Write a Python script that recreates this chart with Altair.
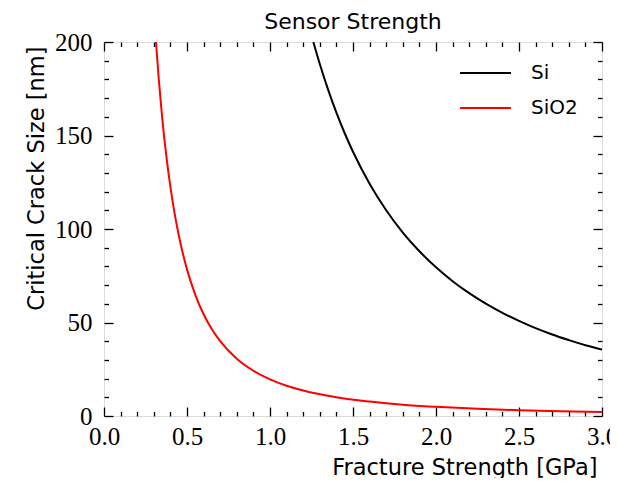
import altair as alt
import pandas as pd

# ---- data ----
si_strength = [1.261, 1.30, 1.35, 1.40, 1.45, 1.50, 1.60, 1.70, 1.80, 1.90, 2.00,
               2.10, 2.20, 2.30, 2.40, 2.50, 2.60, 2.70, 2.80, 2.90, 3.00]
si_crack = [200.0, 188.2, 174.5, 162.2, 151.2, 141.3, 124.2, 110.0, 98.1, 88.1, 79.5,
            72.1, 65.7, 60.1, 55.2, 50.9, 47.0, 43.6, 40.6, 37.8, 35.5]

sio2_strength = [0.313, 0.33, 0.35, 0.375, 0.40, 0.425, 0.45, 0.50, 0.55, 0.60, 0.65,
                 0.70, 0.80, 0.90, 1.00, 1.10, 1.20, 1.40, 1.60, 1.80, 2.00,
                 2.25, 2.50, 2.75, 3.00]
sio2_crack = [200.0, 180.0, 160.0, 139.4, 122.5, 108.5, 96.8, 78.4, 64.8, 54.4, 46.4,
              40.0, 30.6, 24.2, 19.6, 16.2, 13.6, 10.0, 7.7, 6.0, 4.9,
              3.9, 3.1, 2.6, 2.2]

materials = ["Si", "SiO2"]
line_colors = ["#000000", "#ff0000"]

x_major_ticks = [0.0, 0.5, 1.0, 1.5, 2.0, 2.5, 3.0]
x_minor_ticks = [0.1, 0.2, 0.3, 0.4, 0.6, 0.7, 0.8, 0.9, 1.1, 1.2, 1.3, 1.4,
                 1.6, 1.7, 1.8, 1.9, 2.1, 2.2, 2.3, 2.4, 2.6, 2.7, 2.8, 2.9]
y_major_ticks = [0, 50, 100, 150, 200]
y_minor_ticks = [10, 20, 30, 40, 60, 70, 80, 90, 110, 120, 130, 140,
                 160, 170, 180, 190]

df = pd.concat([
    pd.DataFrame({"strength": si_strength, "crack": si_crack, "material": materials[0]}),
    pd.DataFrame({"strength": sio2_strength, "crack": sio2_crack, "material": materials[1]}),
])

SANS = "DejaVu Sans"
SERIF = "Liberation Serif"
W, H = 498, 374
MAJ, MIN = 9, 4.5

x_scale = alt.Scale(domain=[0, 3], nice=False, zero=False)
y_scale = alt.Scale(domain=[0, 200], nice=False)

tick_style = dict(grid=False, domain=False, tickColor="black", tickWidth=1.3,
                  labelFlush=False, labelOverlap=False)


def plain_axis(orient, values, size):
    return alt.Axis(orient=orient, values=values, labels=False, title=None,
                    tickSize=size, offset=-size, **tick_style)


x_bottom = alt.Axis(
    orient="bottom", values=x_major_ticks, tickSize=MAJ, offset=-MAJ,
    labelPadding=8, labelFont=SERIF, labelFontSize=25, labelColor="black", format=".1f",
    title="Fracture Strength [GPa]", titleX=W - 5, titleY=58 + MAJ, titleAlign="right",
    titleAnchor="end", titleBaseline="alphabetic", titleFont=SANS, titleFontSize=22.5,
    titleFontWeight="normal", titleColor="black", **tick_style)

y_left = alt.Axis(
    orient="left", values=y_major_ticks, tickSize=MAJ, offset=-MAJ,
    labelPadding=12, labelFont=SERIF, labelFontSize=25, labelColor="black", format="d",
    title="Critical Crack Size [nm]", titleAngle=270, titleX=-61 - MAJ, titleY=4,
    titleAlign="right", titleAnchor="end", titleBaseline="alphabetic", titleFont=SANS,
    titleFontSize=22.5, titleFontWeight="normal", titleColor="black", **tick_style)

lines = alt.Chart(df).mark_line(strokeWidth=2, interpolate="monotone", clip=True).encode(
    x=alt.X("strength:Q", scale=x_scale, axis=x_bottom),
    y=alt.Y("crack:Q", scale=y_scale, axis=y_left),
    color=alt.Color(
        "material:N",
        scale=alt.Scale(domain=materials, range=line_colors),
        legend=alt.Legend(
            orient="none", legendX=355, legendY=19, title=None, symbolType="stroke",
            symbolSize=2601, symbolStrokeWidth=2, clipHeight=24, rowPadding=11,
            labelFont=SANS, labelFontSize=20, labelOffset=19, labelColor="black",
            padding=0),
    ),
)


def hidden_layer(x_axis, y_axis):
    return alt.Chart(df).mark_line(opacity=0).encode(
        x=alt.X("strength:Q", scale=x_scale, axis=x_axis),
        y=alt.Y("crack:Q", scale=y_scale, axis=y_axis),
        detail="material:N",
    )


minor_bl = hidden_layer(plain_axis("bottom", x_minor_ticks, MIN),
                        plain_axis("left", y_minor_ticks, MIN))
major_tr = hidden_layer(plain_axis("top", x_major_ticks, MAJ),
                        plain_axis("right", y_major_ticks, MAJ))
minor_tr = hidden_layer(plain_axis("top", x_minor_ticks, MIN),
                        plain_axis("right", y_minor_ticks, MIN))

chart = alt.layer(lines, minor_bl, major_tr, minor_tr).resolve_axis(
    x="independent", y="independent"
).properties(
    width=W, height=H,
    title=alt.TitleParams("Sensor Strength", font=SANS, fontSize=22, fontWeight="normal",
                          color="black", anchor="middle", baseline="alphabetic",
                          offset=15, dy=36),
    autosize=alt.AutoSizeParams(type="none"),
    padding={"left": 96, "top": 34, "right": 8, "bottom": 62},
).configure_view(stroke="black", strokeWidth=1.6).configure(background="white")

chart.save("out.html", embed_options={"renderer": "svg", "actions": False})
